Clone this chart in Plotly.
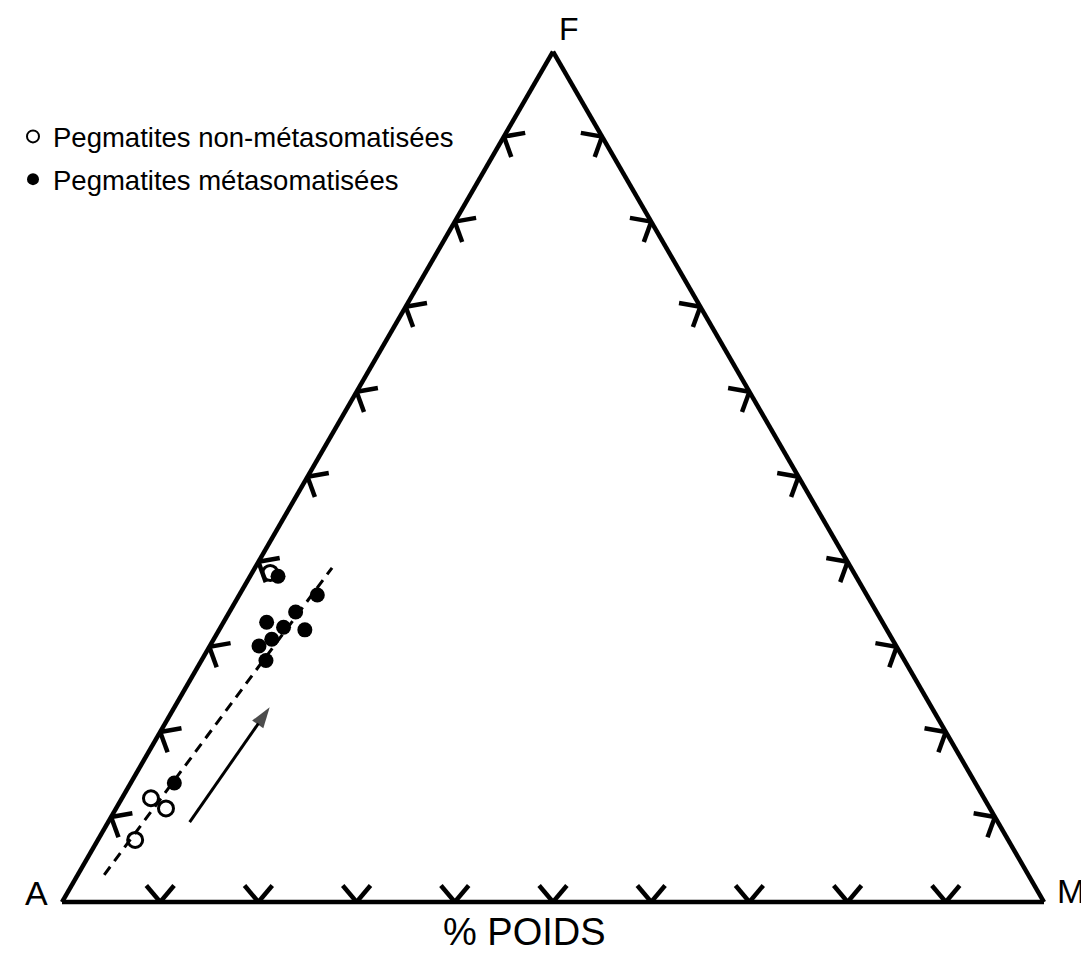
import numpy as np
import plotly.graph_objects as go

W, H = 1089, 953

# ---- data (percent by weight: F, M ; A = 100 - F - M) ----
open_F = [38.7, 12.2, 11.0, 7.3]
open_M = [1.85, 2.96, 5.09, 3.80]
filled_F = [38.3, 36.1, 34.1, 32.9, 32.3, 32.0, 30.9, 30.1, 28.4, 14.0]
filled_M = [2.85, 7.95, 6.74, 4.39, 6.41, 8.73, 5.91, 5.01, 6.57, 4.44]
trend_F = [3.2, 39.3]
trend_M = [2.7, 7.85]
arrow_F = [9.4, 22.9]
arrow_M = [8.3, 9.7]
tick_values = [10, 20, 30, 40, 50, 60, 70, 80, 90]

open_name = "Pegmatites non-métasomatisées"
filled_name = "Pegmatites métasomatisées"


def rest(F, M):
    return [100 - f - m for f, m in zip(F, M)]


# ---- tick glyphs (chevrons opening into the triangle) ----
S = np.sqrt(3) / 2


def to_tern(x, y):
    a = y / S
    c = x - 0.5 * a
    b = 1 - a - c
    return a * 100, b * 100, c * 100


edges = [
    (lambda t: (t, 0.0), 90.0),
    (lambda t: (0.5 * t, S * t), -30.0),
    (lambda t: (1 - 0.5 * t, S * t), 210.0),
]
L = 0.022
spread = 40.0
ta, tb, tc = [], [], []
for pos, normal in edges:
    for v in tick_values:
        x0, y0 = pos(v / 100)
        for sgn in (-1, 1):
            ang = np.radians(normal + sgn * spread)
            x1, y1 = x0 + L * np.cos(ang), y0 + L * np.sin(ang)
            for (px, py) in ((x0, y0), (x1, y1)):
                a, b, c = to_tern(px, py)
                ta.append(a); tb.append(b); tc.append(c)
            ta.append(None); tb.append(None); tc.append(None)

fig = go.Figure()

fig.add_trace(go.Scatterternary(
    a=ta, b=tb, c=tc, mode="lines", showlegend=False, hoverinfo="skip",
    line=dict(color="black", width=4.5), cliponaxis=False,
))

fig.add_trace(go.Scatterternary(
    a=trend_F, b=rest(trend_F, trend_M), c=trend_M, mode="lines",
    showlegend=False, line=dict(color="black", width=3, dash="10px,7px"),
    cliponaxis=False,
))

fig.add_trace(go.Scatterternary(
    a=arrow_F, b=rest(arrow_F, arrow_M), c=arrow_M, mode="lines+markers",
    showlegend=False, line=dict(color="#000000", width=3),
    marker=dict(symbol="arrow", size=[0, 22], angleref="previous", color="#000000",
                line=dict(width=0)),
    cliponaxis=False,
))

fig.add_trace(go.Scatterternary(
    a=open_F, b=rest(open_F, open_M), c=open_M, mode="markers",
    name=open_name, legendgroup="open",
    marker=dict(symbol="circle-open", size=15, color="black", line=dict(width=3)),
    cliponaxis=False,
))

fig.add_trace(go.Scatterternary(
    a=filled_F, b=rest(filled_F, filled_M), c=filled_M, mode="markers",
    name=filled_name, legendgroup="filled",
    marker=dict(symbol="circle", size=15, color="black"),
    cliponaxis=False,
))

# triangle geometry in pixels
x_left, x_right, y_base = 54, 1036, 894
side = x_right - x_left
h = side * S

axis_style = dict(showline=True, linecolor="black", linewidth=4.5, showgrid=False,
                  showticklabels=False, ticks="", title=dict(text=""))

FONT = "Liberation Sans, Arial, sans-serif"


def ann(text, px, py, size, xanchor="center"):
    return dict(text=text, x=px / W, y=1 - py / H, xref="paper", yref="paper",
                showarrow=False, xanchor=xanchor, yanchor="middle", borderpad=0,
                font=dict(family=FONT, size=size, color="black"))


fig.update_layout(
    width=W, height=H,
    margin=dict(l=0, r=0, t=0, b=0),
    paper_bgcolor="white",
    font=dict(family=FONT, color="black"),
    ternary=dict(
        sum=100,
        bgcolor="white",
        domain=dict(x=[x_left / W, x_right / W],
                    y=[(H - y_base) / H, (H - y_base + h) / H]),
        aaxis=axis_style, baxis=axis_style, caxis=axis_style,
    ),
    showlegend=True,
    legend=dict(x=5 / W, y=1 - 104 / H, xanchor="left", yanchor="top",
                bgcolor="rgba(0,0,0,0)", font=dict(family=FONT, size=27.5, color="black"),
                tracegroupgap=4, itemsizing="constant"),
    annotations=[
        ann("F", 561, 21, 32),
        ann("A", 28, 885, 34),
        ann("M", 1063, 883, 34),
        ann("% POIDS", 516, 924, 38),
    ],
)

fig.write_html("out.html")
